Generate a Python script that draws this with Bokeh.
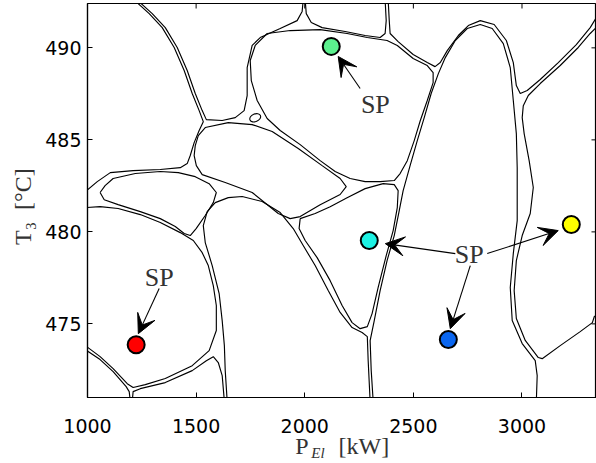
import math
from bokeh.plotting import figure
from bokeh.models import Range1d, Label, Arrow, VeeHead, FixedTicker
from bokeh.embed import file_html
from bokeh.resources import INLINE

# ---------------- data ----------------
x_ticks = [1000, 1500, 2000, 2500, 3000]
y_ticks = [475, 480, 485, 490]
x_lim = [1000, 3343]
y_lim = [471.0, 492.41]

# operating points (P_El [kW], T3 [degC])
sp_x = [1224, 2297, 2122, 2661, 3227]
sp_y = [473.87, 479.53, 490.08, 474.15, 480.40]
sp_colors = ["#ff0000", "#1ef2e4", "#5cf08e", "#0a66f0", "#ffff00"]

# region boundaries (contour curves) in data units
tl_x = [1215, 1284, 1344, 1399, 1445, 1482, 1514, 1533, 1514, 1491, 1473, 1459, 1427, 1335, 1210, 1105, 1045, 990]
tl_y = [492.6, 491.86, 491.10, 490.02, 488.77, 487.52, 486.59, 485.99, 485.51, 484.85, 484.15, 483.71, 483.49, 483.39, 483.33, 483.22, 482.73, 482.19]

c2_x = [1229, 1298, 1358, 1413, 1459, 1496, 1528, 1547, 1620, 1680, 1721, 1735, 1735, 1758, 1795, 1887, 1965, 1988, 1993]
c2_y = [492.6, 491.86, 491.10, 490.02, 488.77, 487.52, 486.59, 486.10, 486.05, 486.21, 486.59, 487.41, 488.93, 490.13, 490.56, 491.05, 491.48, 491.98, 492.6]

top_x = [2002, 2007, 2030, 2080, 2186, 2278, 2347, 2370, 2375, 2370]
top_y = [492.6, 491.86, 491.38, 491.10, 490.89, 490.67, 490.56, 490.78, 491.48, 492.6]

tr_x = [2384, 2389, 2393, 2430, 2499, 2564, 2600, 2624, 2656, 2707, 2753, 2808, 2872, 2928, 2960, 2974, 2992, 3024, 3084, 3167, 3250, 3314, 3351]
tr_y = [492.6, 491.48, 490.78, 490.34, 489.64, 489.20, 488.98, 489.20, 489.85, 490.67, 491.21, 491.48, 491.27, 490.40, 489.20, 487.95, 487.52, 487.68, 488.28, 489.20, 490.18, 491.10, 491.81]

green_x = [1827, 1933, 2071, 2195, 2288, 2379, 2426, 2499, 2564, 2591, 2591, 2564, 2532, 2504, 2472, 2439, 2412, 2347, 2278, 2209, 2140, 2071, 1979, 1887, 1827, 1781, 1754, 1749, 1772, 1827]
green_y = [490.78, 490.94, 490.99, 490.78, 490.56, 490.40, 490.13, 489.42, 489.04, 488.66, 488.11, 487.14, 486.05, 484.96, 483.87, 483.17, 482.79, 482.73, 482.73, 482.90, 483.28, 483.87, 484.74, 485.51, 486.16, 487.14, 488.22, 489.31, 490.13, 490.78]

t_x = [2315, 2306, 2301, 2320, 2347, 2379, 2412, 2435, 2453, 2485, 2518, 2550, 2582, 2615, 2647, 2693, 2748, 2808, 2863, 2914, 2946, 2960, 2974, 2978, 2978, 2960, 2946, 2955, 3001, 3061, 3070, 3066]
t_y = [470.8, 472.46, 474.09, 475.18, 476.81, 478.44, 479.80, 481.16, 482.24, 483.60, 484.96, 486.21, 487.52, 488.60, 489.47, 490.40, 491.05, 491.27, 491.05, 490.23, 488.93, 487.14, 485.34, 483.49, 480.61, 478.82, 476.98, 475.18, 473.93, 473.00, 472.19, 470.8]

yel_x = [3351, 3314, 3259, 3176, 3084, 3029, 3006, 3001, 3010, 3033, 3052, 3038, 3001, 2974, 2964, 2974, 3015, 3075, 3093, 3176, 3268, 3324, 3333, 3351]
yel_y = [491.21, 490.78, 490.02, 489.04, 488.06, 487.41, 486.86, 486.21, 485.34, 483.87, 482.41, 481.00, 479.80, 478.44, 476.81, 475.29, 474.10, 473.17, 473.11, 473.82, 474.58, 475.07, 475.40, 475.51]

cy_x = [1979, 2048, 2117, 2195, 2278, 2361, 2412, 2430, 2426, 2407, 2375, 2338, 2310, 2288, 2255, 2218, 2172, 2117, 2057, 2002, 1974, 1979]
cy_y = [480.72, 481.00, 481.37, 481.86, 482.35, 482.62, 482.57, 482.24, 481.32, 480.07, 478.71, 476.98, 475.56, 474.85, 474.74, 475.07, 476.00, 477.35, 478.60, 479.53, 480.18, 480.72]

c5_x = [1643, 1634, 1630, 1620, 1606, 1574, 1542, 1533, 1551, 1588, 1648, 1712, 1804, 1887, 1947, 1993, 2048, 2108, 2163, 2218, 2264, 2288, 2292, 2301]
c5_y = [470.8, 472.46, 473.82, 475.18, 476.65, 478.17, 479.42, 480.34, 481.10, 481.59, 481.86, 481.92, 481.65, 481.05, 480.18, 479.26, 478.17, 476.81, 475.62, 474.80, 474.53, 474.31, 473.00, 470.8]

red_x = [990, 1058, 1141, 1243, 1335, 1427, 1487, 1528, 1556, 1579, 1593, 1593, 1560, 1482, 1358, 1266, 1210, 1183, 1118, 1058, 990]
red_y = [481.32, 481.37, 481.27, 480.94, 480.51, 479.96, 479.53, 478.87, 478.17, 477.08, 476.00, 474.64, 473.55, 472.73, 472.03, 471.70, 471.54, 471.75, 472.57, 473.22, 473.82]

cor_x = [990, 1058, 1118, 1178, 1192, 1197]
cor_y = [473.60, 473.06, 472.41, 471.59, 471.32, 470.8]

bm_x = [1206, 1210, 1243, 1358, 1482, 1547, 1579, 1602, 1620, 1630]
bm_y = [470.8, 471.32, 471.48, 471.81, 472.46, 473.00, 473.22, 472.90, 472.19, 470.8]

b_x = [1058, 1081, 1118, 1220, 1335, 1418, 1496, 1560, 1593, 1579, 1542, 1500, 1473, 1445, 1404, 1335, 1243, 1141, 1077, 1058]
b_y = [482.14, 482.51, 482.90, 483.17, 483.28, 483.22, 483.00, 482.62, 482.14, 481.59, 480.89, 480.18, 479.80, 479.91, 480.29, 480.72, 481.10, 481.48, 481.75, 482.14]

c4_x = [1496, 1510, 1542, 1648, 1758, 1850, 1970, 2080, 2163, 2191, 2163, 2071, 1979, 1933, 1878, 1758, 1634, 1528, 1501, 1491, 1496]
c4_y = [484.69, 485.23, 485.67, 485.94, 485.83, 485.45, 484.53, 483.60, 482.90, 482.46, 482.03, 481.48, 480.83, 480.72, 481.00, 482.14, 482.68, 483.11, 483.60, 484.15, 484.69]

loop_x = [1772]
loop_y = [486.2]

# annotation "SP" labels and arrows
sp_label_x = [2325, 1330, 2757]
sp_label_y = [486.12, 476.76, 477.97]
arrow_x0 = [2255, 1330, 2693, 2840, 2762]
arrow_y0 = [487.79, 476.92, 478.82, 478.82, 478.17]
arrow_x1 = [2154, 1234, 2371, 3167, 2670]
arrow_y1 = [489.53, 474.47, 479.36, 480.07, 474.74]

# ---------------- figure ----------------
p = figure(width=596, height=462,
           x_range=Range1d(*x_lim), y_range=Range1d(*y_lim),
           output_backend="svg", toolbar_location=None,
           min_border_left=87, min_border_right=0, min_border_top=3, min_border_bottom=65)
p.xgrid.visible = False
p.ygrid.visible = False
p.outline_line_color = "black"
p.outline_line_width = 1.2
p.background_fill_color = "white"
p.border_fill_color = "white"

TICK_FONT = "DejaVu Sans"
for ax, tk in ((p.xaxis[0], x_ticks), (p.yaxis[0], y_ticks)):
    ax.ticker = FixedTicker(ticks=tk)
    ax.major_tick_in = 5
    ax.major_tick_out = 0
    ax.minor_tick_line_color = None
    ax.axis_line_width = 1.2
    ax.major_tick_line_width = 1
    ax.major_label_text_font = TICK_FONT
    ax.major_label_text_font_size = "19px"
    ax.major_label_text_color = "black"
p.xaxis[0].major_label_standoff = 21
p.yaxis[0].major_label_standoff = 6

# inward ticks on the top and right edges of the box
tick_len_y = 5 / 18.4
tick_len_x = 5 / 0.2172
p.segment(x0=x_ticks, y0=[y_lim[1]] * len(x_ticks), x1=x_ticks, y1=[y_lim[1] - tick_len_y] * len(x_ticks),
          line_color="black", line_width=1)
p.segment(x0=[x_lim[1]] * len(y_ticks), y0=y_ticks, x1=[x_lim[1] - tick_len_x] * len(y_ticks), y1=y_ticks,
          line_color="black", line_width=1)

curves_x = [tl_x, c2_x, top_x, tr_x, green_x, t_x, yel_x, cy_x, c5_x, red_x, cor_x, bm_x, b_x, c4_x]
curves_y = [tl_y, c2_y, top_y, tr_y, green_y, t_y, yel_y, cy_y, c5_y, red_y, cor_y, bm_y, b_y, c4_y]
p.multi_line(xs=curves_x, ys=curves_y, line_color="black", line_width=1.15)
p.ellipse(x=loop_x, y=loop_y, width=52, height=0.42, angle=0.4,
          fill_color=None, line_color="black", line_width=1.1)

for x0, y0, x1, y1 in zip(arrow_x0, arrow_y0, arrow_x1, arrow_y1):
    p.add_layout(Arrow(x_start=x0, y_start=y0, x_end=x1, y_end=y1, line_width=1.1,
                       line_color="black",
                       end=VeeHead(size=19, fill_color="black", line_color="black", line_width=1)))

p.scatter(x=sp_x, y=sp_y, size=17, fill_color=sp_colors, line_color="black", line_width=2)

SERIF = "Liberation Serif"
GRAY = "#333333"
for lx, ly in zip(sp_label_x, sp_label_y):
    p.add_layout(Label(x=lx, y=ly, text="SP", text_font=SERIF, text_font_size="26px",
                       text_color=GRAY, text_align="center", text_baseline="bottom"))

# axis titles: placed in the side panels (outside the clipped frame),
# positioned through the data scales
NB = "\u00a0"
p.add_layout(Label(x=1956, y=467.68, text="P" + NB * 5 + "[kW]", text_font=SERIF,
                   text_font_size="24px", text_color=GRAY, text_baseline="bottom"), "below")
p.add_layout(Label(x=2030, y=467.56, text="El", text_font=SERIF, text_font_style="italic",
                   text_font_size="15px", text_color=GRAY, text_baseline="bottom"), "left")
p.add_layout(Label(x=765, y=481.37, text="T\u2083" + NB * 2 + "[°C]", text_font=SERIF,
                   text_font_size="24px", text_color=GRAY, angle=math.pi / 2,
                   text_align="center", text_baseline="bottom"), "left")

open("out.html", "w").write(file_html(p, INLINE))
